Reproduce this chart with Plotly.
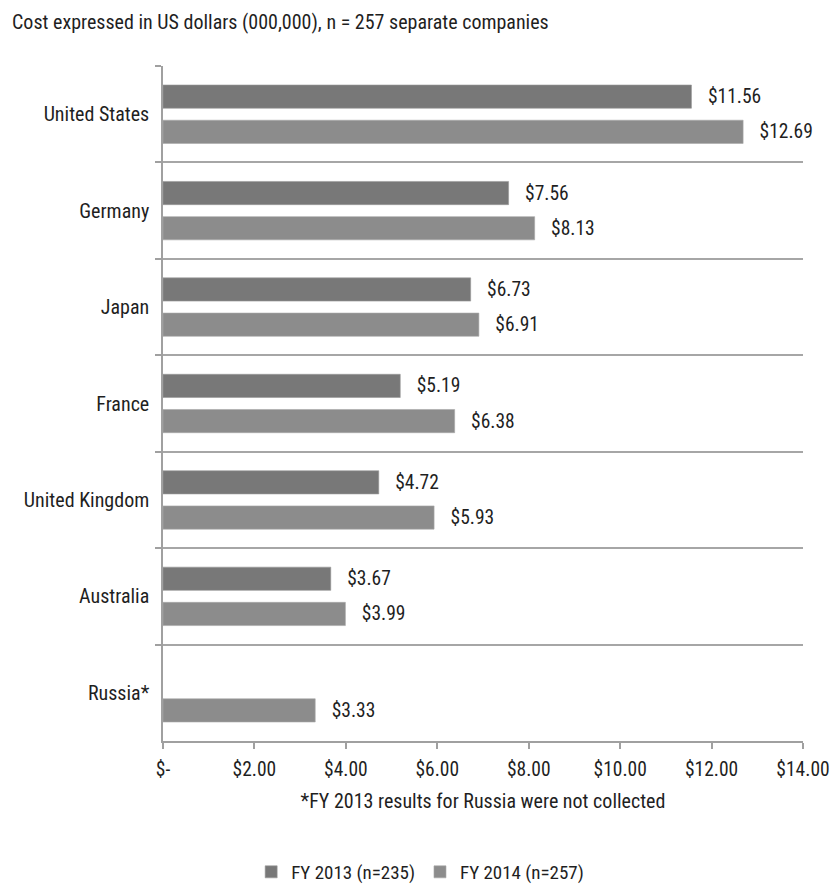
import plotly.graph_objects as go

countries = ["United States", "Germany", "Japan", "France", "United Kingdom", "Australia", "Russia*"]
fy2013 = [11.56, 7.56, 6.73, 5.19, 4.72, 3.67, None]
fy2014 = [12.69, 8.13, 6.91, 6.38, 5.93, 3.99, 3.33]
series_names = ["FY 2013 (n=235)", "FY 2014 (n=257)"]
tick_vals = [0, 2, 4, 6, 8, 10, 12, 14]
tick_text = ["$-", "$2.00", "$4.00", "$6.00", "$8.00", "$10.00", "$12.00", "$14.00"]
title_text = "Cost expressed in US dollars (000,000), n = 257 separate companies"
footnote = "*FY 2013 results for Russia were not collected"

FONT = "Roboto Condensed, Liberation Sans, sans-serif"
TXT = "#1f1f1f"
PAD = "\u00a0" * 3

def labels(vals):
    return [None if v is None else f"{PAD}${v:.2f}" for v in vals]

fig = go.Figure()
fig.add_trace(go.Bar(
    y=countries, x=fy2013, name=series_names[0], orientation="h",
    marker=dict(color="#787878", line=dict(color="#999999", width=0.6)),
    text=labels(fy2013), textposition="outside", cliponaxis=False,
    textfont=dict(size=19.5, color=TXT, family=FONT),
))
fig.add_trace(go.Bar(
    y=countries, x=fy2014, name=series_names[1], orientation="h",
    marker=dict(color="#8c8c8c", line=dict(color="#a8a8a8", width=0.6)),
    text=labels(fy2014), textposition="outside", cliponaxis=False,
    textfont=dict(size=19.5, color=TXT, family=FONT),
))

fig.update_layout(
    width=832, height=888,
    margin=dict(l=163, r=29, t=66, b=147, autoexpand=False),
    paper_bgcolor="white", plot_bgcolor="white",
    font=dict(family=FONT, size=20, color=TXT),
    barmode="group", bargap=0.27, bargroupgap=0.34,
    showlegend=True,
    legend=dict(orientation="h", xref="container", x=0.505, xanchor="center",
                yref="container", y=1 - 872/888, yanchor="middle",
                traceorder="normal", font=dict(size=19, family=FONT, color=TXT),
                itemwidth=30, tracegroupgap=0),
    annotations=[dict(text=title_text, xref="paper", yref="paper", x=-153/640, y=1 + 44/675,
                      xanchor="left", yanchor="middle", showarrow=False,
                      font=dict(size=20, family=FONT, color=TXT))],
)
fig.update_xaxes(
    range=[0, 14], tickvals=tick_vals, ticktext=tick_text,
    showgrid=False, zeroline=False, automargin=False,
    showline=True, linecolor="#a0a0a0", linewidth=1.5,
    ticks="outside", ticklen=6, tickcolor="#a0a0a0", tickwidth=1.5,
    tickfont=dict(size=19.5, family=FONT, color=TXT), ticklabelstandoff=4,
    title=dict(text=footnote, font=dict(size=20, family=FONT, color=TXT), standoff=14),
)
fig.update_yaxes(
    autorange="reversed", tickson="boundaries", automargin=False,
    showgrid=True, gridcolor="#a6a6a6", gridwidth=1.5,
    showline=True, linecolor="#a0a0a0", linewidth=1.5,
    ticks="outside", ticklen=6, tickcolor="#a0a0a0", tickwidth=1.5,
    tickfont=dict(size=20, family=FONT, color=TXT), ticklabelstandoff=8,
)

fig.write_html("out.html")
